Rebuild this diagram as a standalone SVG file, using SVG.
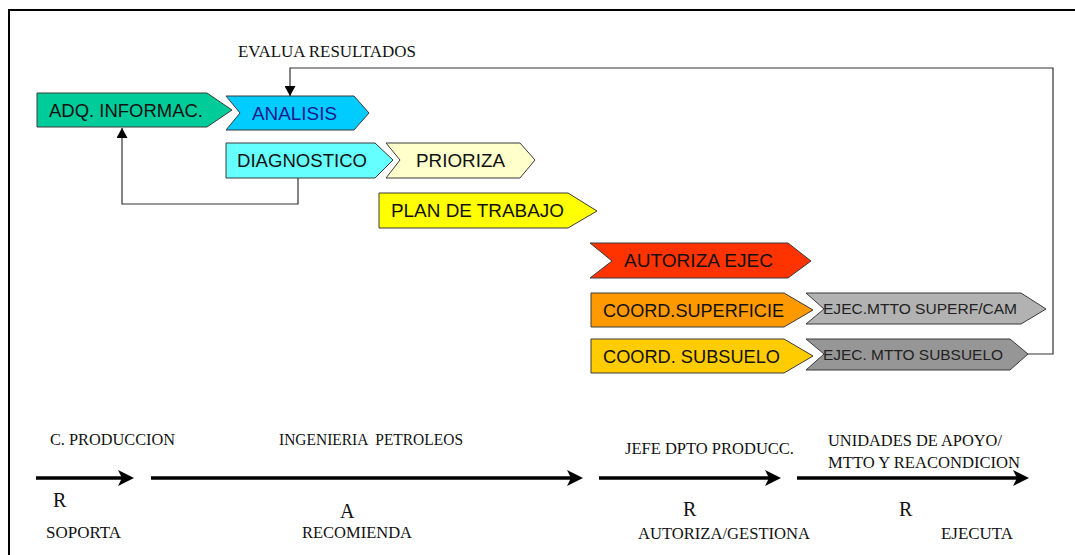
<svg xmlns="http://www.w3.org/2000/svg" width="1075" height="555" viewBox="0 0 1075 555">
  <defs>
    <style>
      .frame { fill: none; stroke: #000; stroke-width: 2; }
      .shape { stroke: #3a3a3a; stroke-width: 1; }
      .lbl { font-family: "Liberation Sans", Arial, sans-serif; font-size: 18px; fill: #111; }
      .lbl-sm { font-family: "Liberation Sans", Arial, sans-serif; font-size: 15px; fill: #222; }
      .note { font-family: "Liberation Serif", "Times New Roman", serif; font-size: 17px; fill: #111; }
      .big { font-family: "Liberation Serif", "Times New Roman", serif; font-size: 20px; fill: #111; }
      .conn { fill: none; stroke: #333; stroke-width: 1.2; }
      .flow { stroke: #000; stroke-width: 3.5; }
    </style>
    <marker id="tri" markerUnits="userSpaceOnUse" markerWidth="11" markerHeight="11" refX="10" refY="5.5" orient="auto">
      <path d="M0,0 L10,5.5 L0,11 z" fill="#000"/>
    </marker>
    <marker id="head" markerUnits="userSpaceOnUse" markerWidth="16" markerHeight="16" refX="6" refY="8" orient="auto">
      <path d="M0,0 L16,8 L0,16 L4,8 z" fill="#000"/>
    </marker>
  </defs>

  <rect width="1075" height="555" fill="#fff"/>
  <path class="frame" d="M9,555 V10 H1075"/>

  <text class="note" x="238" y="57" textLength="178" lengthAdjust="spacingAndGlyphs">EVALUA RESULTADOS</text>

  <!-- process steps -->
  <g id="adq">
    <polygon class="shape" fill="#00CC99" points="37,93 207,93 232,110 207,127 37,127"/>
    <text class="lbl" x="49" y="117" textLength="154" lengthAdjust="spacingAndGlyphs">ADQ. INFORMAC.</text>
  </g>
  <g id="analisis">
    <polygon class="shape" fill="#00CCFF" points="226,96 354,96 369,113 354,130 226,130 240,113"/>
    <text class="lbl" x="252" y="120" textLength="85" lengthAdjust="spacingAndGlyphs" style="fill:#1a1a8c">ANALISIS</text>
  </g>
  <g id="diagnostico">
    <polygon class="shape" fill="#66FFFF" points="226,143 375,143 393,160 375,178 226,178"/>
    <text class="lbl" x="237" y="167" textLength="130" lengthAdjust="spacingAndGlyphs">DIAGNOSTICO</text>
  </g>
  <g id="prioriza">
    <polygon class="shape" fill="#FFFFCC" points="386,143 520,143 535,160 520,178 386,178 400,160"/>
    <text class="lbl" x="416" y="167" textLength="89" lengthAdjust="spacingAndGlyphs">PRIORIZA</text>
  </g>
  <g id="plan">
    <polygon class="shape" fill="#FFFF00" points="379,193 568,193 597,211 568,228 379,228"/>
    <text class="lbl" x="391" y="217" textLength="173" lengthAdjust="spacingAndGlyphs">PLAN DE TRABAJO</text>
  </g>
  <g id="autoriza">
    <polygon class="shape" fill="#FF3300" points="590,243 788,243 811,261 788,278 590,278 612,261"/>
    <text class="lbl" x="624" y="267" textLength="149" lengthAdjust="spacingAndGlyphs">AUTORIZA EJEC</text>
  </g>
  <g id="coord-sup">
    <polygon class="shape" fill="#FF9900" points="591,293 784,293 813,310 784,327 591,327"/>
    <text class="lbl" x="603" y="317" textLength="181" lengthAdjust="spacingAndGlyphs">COORD.SUPERFICIE</text>
  </g>
  <g id="coord-sub">
    <polygon class="shape" fill="#FFCC00" points="591,339 784,339 813,356 784,373 591,373"/>
    <text class="lbl" x="603" y="363" textLength="177" lengthAdjust="spacingAndGlyphs">COORD. SUBSUELO</text>
  </g>
  <g id="ejec-sup">
    <polygon class="shape" fill="#B2B2B2" points="806,293 1021,293 1046,309 1021,324 806,324 824,309"/>
    <text class="lbl-sm" x="823" y="314" textLength="194" lengthAdjust="spacingAndGlyphs">EJEC.MTTO SUPERF/CAM</text>
  </g>
  <g id="ejec-sub">
    <polygon class="shape" fill="#969696" points="806,339 1010,339 1028,354 1010,370 806,370 824,354"/>
    <text class="lbl-sm" x="823" y="360" textLength="180" lengthAdjust="spacingAndGlyphs">EJEC. MTTO SUBSUELO</text>
  </g>

  <!-- feedback connectors -->
  <g id="connectors">
    <path class="conn" d="M1028,354 H1053 V68 H290 V96" marker-end="url(#tri)"/>
    <path class="conn" d="M298,178 V204 H122 V128" marker-end="url(#tri)"/>
  </g>

  <!-- responsibility timeline -->
  <g id="timeline">
    <line class="flow" x1="36" y1="478" x2="124" y2="478" marker-end="url(#head)"/>
    <line class="flow" x1="151" y1="478" x2="573" y2="478" marker-end="url(#head)"/>
    <line class="flow" x1="599" y1="478" x2="771" y2="478" marker-end="url(#head)"/>
    <line class="flow" x1="797" y1="478" x2="1019" y2="478" marker-end="url(#head)"/>
  </g>

  <g id="roles">
    <text class="note" x="50" y="445" textLength="125" lengthAdjust="spacingAndGlyphs">C. PRODUCCION</text>
    <text class="note" x="279" y="445" textLength="184" lengthAdjust="spacingAndGlyphs" xml:space="preserve">INGENIERIA  PETROLEOS</text>
    <text class="note" x="625" y="454" textLength="169" lengthAdjust="spacingAndGlyphs">JEFE DPTO PRODUCC.</text>
    <text class="note" x="828" y="446" textLength="174" lengthAdjust="spacingAndGlyphs">UNIDADES DE APOYO/</text>
    <text class="note" x="828" y="468" textLength="192" lengthAdjust="spacingAndGlyphs">MTTO Y REACONDICION</text>

    <text class="big" x="53" y="507">R</text>
    <text class="big" x="340" y="518">A</text>
    <text class="big" x="683" y="516">R</text>
    <text class="big" x="899" y="516">R</text>

    <text class="note" x="46" y="538" textLength="75" lengthAdjust="spacingAndGlyphs">SOPORTA</text>
    <text class="note" x="302" y="538" textLength="110" lengthAdjust="spacingAndGlyphs">RECOMIENDA</text>
    <text class="note" x="638" y="539" textLength="172" lengthAdjust="spacingAndGlyphs">AUTORIZA/GESTIONA</text>
    <text class="note" x="941" y="539" textLength="72" lengthAdjust="spacingAndGlyphs">EJECUTA</text>
  </g>
</svg>
